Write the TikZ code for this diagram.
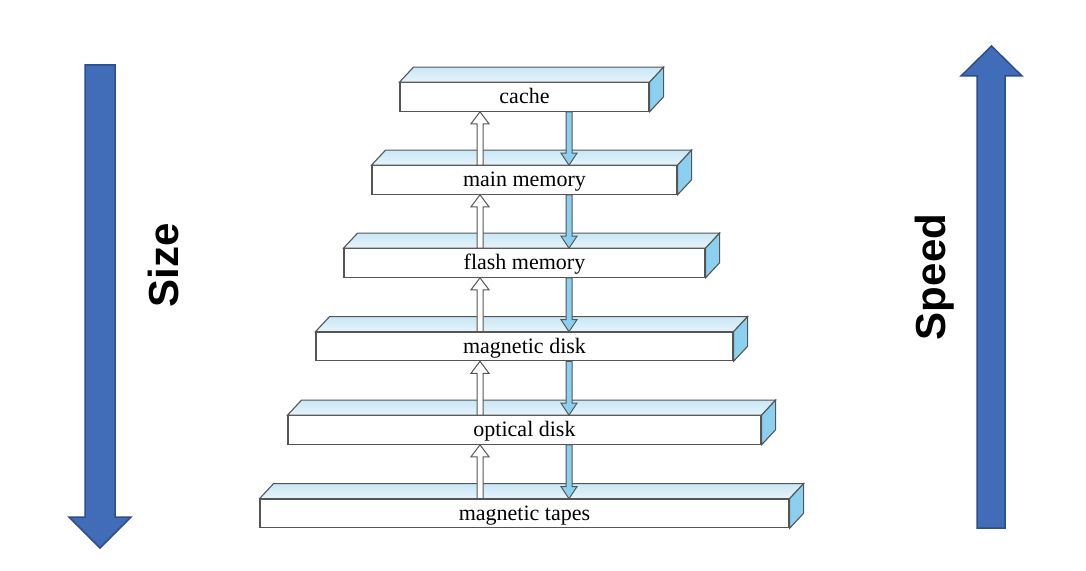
\documentclass[tikz,border=0pt]{standalone}
\usepackage{fontspec}
\setmainfont{Liberation Serif}
\newfontfamily\arialfont{Liberation Sans}
\usetikzlibrary{positioning}

\definecolor{slabtop}{RGB}{200,231,246}
\definecolor{slabtoplight}{RGB}{230,244,251}
\definecolor{slabside}{RGB}{140,208,240}
\definecolor{slabline}{RGB}{85,85,85}
\definecolor{bigblue}{RGB}{64,108,184}
\definecolor{bigblueline}{RGB}{45,78,138}

\tikzset{
  slab/.style={draw=slabline, line width=1.1pt, fill=white, minimum height=28.5pt, inner sep=0pt, text height=21pt, text depth=7.5pt, font=\fontsize{22}{24}\selectfont},
  topface/.style={draw=slabline, line width=1.1pt, top color=slabtop, bottom color=slabtoplight},
  sideface/.style={draw=slabline, line width=1.1pt, fill=slabside},
  uparrow/.style={draw=slabline, line width=1pt, fill=white},
  downarrow/.style={draw=slabline, line width=1pt, fill=slabside},
  bigarrow/.style={draw=bigblueline, line width=1.5pt, fill=bigblue},
  sidelabel/.style={font=\arialfont\bfseries\fontsize{42}{42}\selectfont, rotate=90}
}

% top and right faces of a slab
\newcommand\slabfaces[1]{%
  \draw[topface] (#1.north west) -- ++(14,15) -- ([shift={(14,15)}]#1.north east) -- (#1.north east) -- cycle;
  \draw[sideface] (#1.north east) -- ++(14,15) -- ([shift={(14,15)}]#1.south east) -- (#1.south east) -- cycle;}
% hollow arrow going up: #1 lower slab, #2 upper slab
\newcommand\uparr[2]{%
  \draw[uparrow] ([xshift=-47.5]#1.north) -- ([xshift=-47.5,yshift=-12]#2.south) -- ([xshift=-53.5,yshift=-12]#2.south) -- ([xshift=-44.5]#2.south) -- ([xshift=-35.5,yshift=-12]#2.south) -- ([xshift=-41.5,yshift=-12]#2.south) -- ([xshift=-41.5]#1.north) -- cycle;}
% filled arrow going down: #1 upper slab, #2 lower slab
\newcommand\downarr[2]{%
  \draw[downarrow] ([xshift=41.5]#1.south) -- ([xshift=41.5,yshift=12]#2.north) -- ([xshift=36.5,yshift=12]#2.north) -- ([xshift=44.5]#2.north) -- ([xshift=52.5,yshift=12]#2.north) -- ([xshift=47.5,yshift=12]#2.north) -- ([xshift=47.5]#1.south) -- cycle;}

\begin{document}
\begin{tikzpicture}[x=1pt,y=1pt]
  \useasboundingbox (0,0) rectangle (1086,570);
  \node[slab, minimum width=249pt] (cache) at (524.5,473) {cache};
  \node[slab, minimum width=305pt] (mainmem) at (524.5,390) {main memory};
  \node[slab, minimum width=361pt] (flash) at (524.5,307) {flash memory};
  \node[slab, minimum width=417pt] (disk) at (524.5,223.5) {magnetic disk};
  \node[slab, minimum width=473pt] (optical) at (524.5,140) {optical disk};
  \node[slab, minimum width=529pt] (tapes) at (524.5,56.5) {magnetic tapes};
  \slabfaces{cache}
  \slabfaces{mainmem}
  \slabfaces{flash}
  \slabfaces{disk}
  \slabfaces{optical}
  \slabfaces{tapes}
  \uparr{mainmem}{cache}   \downarr{cache}{mainmem}
  \uparr{flash}{mainmem}   \downarr{mainmem}{flash}
  \uparr{disk}{flash}      \downarr{flash}{disk}
  \uparr{optical}{disk}    \downarr{disk}{optical}
  \uparr{tapes}{optical}   \downarr{optical}{tapes}
  % size and speed
  \draw[bigarrow] (85,505) -- (115,505) -- (115,53) -- (131,53) -- (100,22) -- (69,53) -- (85,53) -- cycle;
  \draw[bigarrow] (977,42) -- (1005,42) -- (1005,494) -- (1022,494) -- (991.5,524) -- (961,494) -- (977,494) -- cycle;
  \node[sidelabel] (size) at (163,305) {Size};
  \node[sidelabel] (speed) at (935,293) {Speed};
\end{tikzpicture}
\end{document}
